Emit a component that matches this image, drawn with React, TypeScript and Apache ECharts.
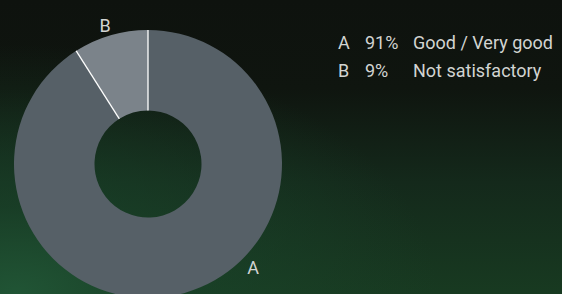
import React, { useEffect, useRef } from "react";
import * as echarts from "echarts";

const categories = ["A", "B"];
const values = [91, 9];
const descriptions = ["Good / Very good", "Not satisfactory"];
const sliceColors = ["#566067", "#7b838a"];

const CX = 148;
const CY = 164;
const R_IN = 53.5;
const R_OUT = 134;
const FONT = "Roboto, 'Noto Sans', sans-serif";
const TEXT_COLOR = "#d2d4d2";

export default function App() {
  const ref = useRef<HTMLDivElement>(null);

  useEffect(() => {
    if (!ref.current) return;
    const chart = echarts.init(ref.current, null, { renderer: "svg" });
    const total = values.reduce((a, b) => a + b, 0);

    const option: any = {
      animation: false,
      backgroundColor: "transparent",
      legend: {
        orient: "vertical",
        left: 328,
        top: 27.5,
        icon: "none",
        itemWidth: 0,
        itemHeight: 20,
        itemGap: 8.8,
        selectedMode: false,
        data: categories,
        formatter: (name: string) => {
          const i = categories.indexOf(name);
          return `{a|${name}}{b|${values[i]}%}{c|${descriptions[i]}}`;
        },
        textStyle: {
          color: TEXT_COLOR,
          fontSize: 18,
          fontFamily: FONT,
          rich: {
            a: { width: 27, fontSize: 18, lineHeight: 20, color: TEXT_COLOR, fontFamily: FONT },
            b: { width: 48, fontSize: 18, lineHeight: 20, color: TEXT_COLOR, fontFamily: FONT },
            c: { fontSize: 18, lineHeight: 20, color: TEXT_COLOR, fontFamily: FONT },
          },
        },
      },
      series: [
        {
          type: "pie",
          center: [CX, CY],
          radius: [R_IN, R_OUT],
          startAngle: 90,
          clockwise: true,
          silent: true,
          data: categories.map((c, i) => ({
            name: c,
            value: values[i],
            itemStyle: { color: sliceColors[i] },
          })),
          label: {
            show: true,
            position: "outside",
            formatter: "{b}",
            color: TEXT_COLOR,
            fontSize: 18,
            fontFamily: FONT,
          },
          labelLine: { show: false, length: 10, length2: 0 },
          labelLayout: (params: any) => {
            if (params.dataIndex === 0) {
              return { x: 253, y: 267.5, align: "center", verticalAlign: "middle" };
            }
            return { x: 105, y: 25, align: "center", verticalAlign: "middle" };
          },
        },
        {
          type: "custom",
          coordinateSystem: "none",
          silent: true,
          z: 5,
          data: values.map((_, i) => [i]),
          renderItem: (params: any) => {
            const i = params.dataIndex;
            const cum = values.slice(0, i).reduce((a, b) => a + b, 0);
            const ang = ((90 - (cum / total) * 360) * Math.PI) / 180;
            const c = Math.cos(ang);
            const s = Math.sin(ang);
            return {
              type: "line",
              shape: {
                x1: CX + R_IN * c,
                y1: CY - R_IN * s,
                x2: CX + R_OUT * c,
                y2: CY - R_OUT * s,
              },
              style: { stroke: "#ffffff", lineWidth: 1.3 },
            };
          },
        },
      ],
    };

    chart.setOption(option);
    return () => chart.dispose();
  }, []);

  return (
    <div
      style={{
        position: "absolute",
        left: 0,
        top: 0,
        width: 562,
        height: 294,
        overflow: "hidden",
        background:
          "radial-gradient(ellipse 75% 85% at 3% 100%, rgba(33,86,54,0.95) 0%, rgba(26,68,42,0.7) 35%, rgba(20,50,30,0) 100%), linear-gradient(to bottom, #0e120e 0%, #0f150f 30%, #14291b 62%, #183a21 100%)",
      }}
    >
      <div ref={ref} style={{ width: 562, height: 294 }} />
    </div>
  );
}
